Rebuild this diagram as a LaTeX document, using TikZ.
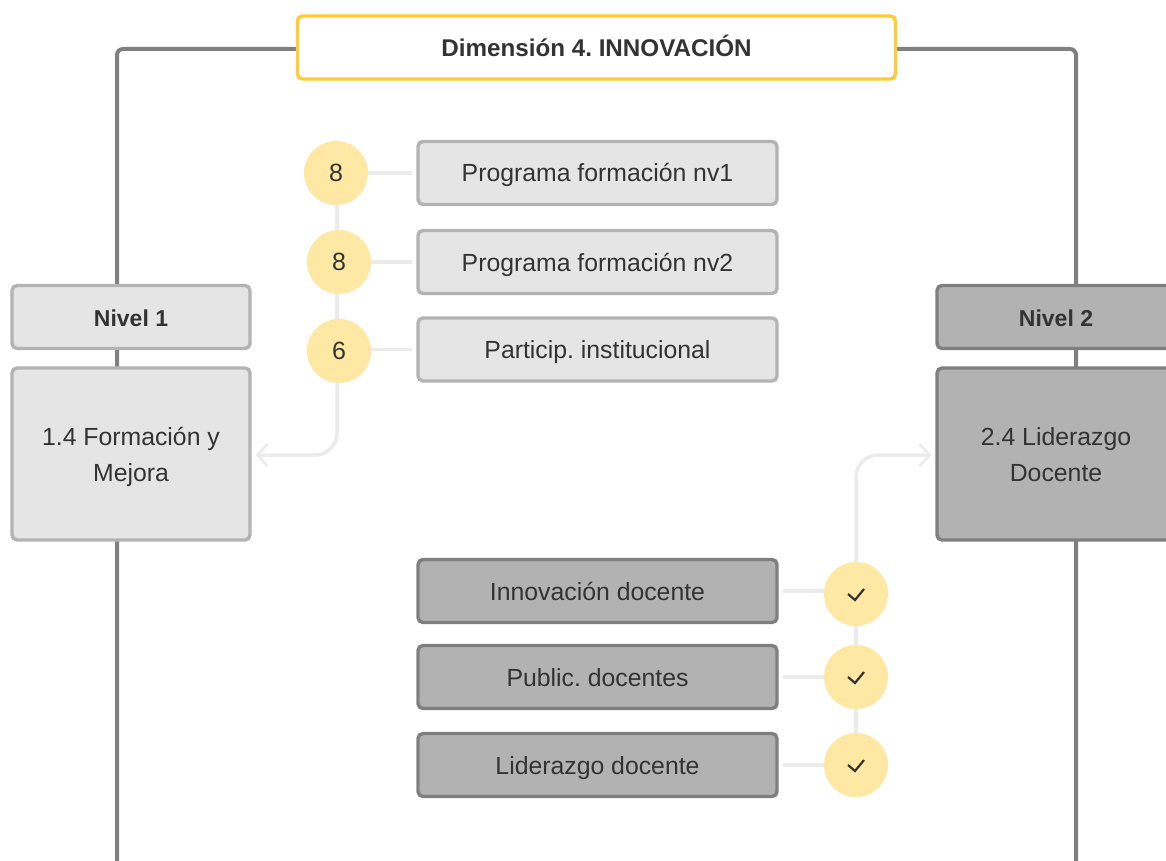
\documentclass[tikz,border=0pt]{standalone}
\usepackage{fontspec}
\setmainfont{Liberation Sans}
\frenchspacing
\usetikzlibrary{arrows.meta, backgrounds, positioning}

\definecolor{framegray}{HTML}{808080}
\definecolor{linkgray}{HTML}{EBEBEB}
\definecolor{inktext}{HTML}{333333}
\definecolor{goldline}{HTML}{FFCC33}
\definecolor{goldfill}{HTML}{FFE8A3}
\definecolor{lightfill}{HTML}{E5E5E5}
\definecolor{lightline}{HTML}{B3B3B3}
\definecolor{darkfill}{HTML}{B2B2B2}
\definecolor{darkline}{HTML}{7F7F7F}

\tikzset{
  basebox/.style={rectangle, rounded corners=5pt, line width=3.4pt, inner sep=0pt, align=center,
    text=inktext, font=\fontsize{24.8}{36}\selectfont, text height=24pt, text depth=6pt},
  lightbox/.style={basebox, draw=lightline, fill=lightfill},
  darkbox/.style={basebox, draw=darkline, fill=darkfill},
  itembox/.style={minimum width=359pt, minimum height=63pt},
  levelbox/.style={minimum width=238pt, minimum height=63pt, font=\fontsize{23}{36}\selectfont\bfseries},
  skillbox/.style={minimum width=238pt, minimum height=172pt, text height=60pt, text depth=6pt},
  score/.style={circle, fill=goldfill, text=inktext, minimum size=64pt, inner sep=0pt,
    font=\fontsize{25}{28}\selectfont},
  link/.style={draw=linkgray, line width=3.5pt},
  flow/.style={link, rounded corners=22pt, -{Straight Barb[length=10pt, width=22pt, line width=2.5pt]}}
}

\begin{document}
\begin{tikzpicture}[x=1pt, y=-1pt]
\useasboundingbox (0,0) rectangle (1166,861);

% Define nodes
\path
(596.5,47.5) node[basebox, draw=goldline, fill=white, minimum width=598pt, minimum height=63pt,
  font=\fontsize{24.2}{36}\selectfont\bfseries] (title) {Dimensión 4. INNOVACIÓN}
(131,317) node[lightbox, levelbox] (level1) {Nivel 1}
(131,454) node[lightbox, skillbox] (skill1) {1.4 Formación y\\Mejora}
(1056,317) node[darkbox, levelbox] (level2) {Nivel 2}
(1056,454) node[darkbox, skillbox] (skill2) {2.4 Liderazgo\\Docente}
(597.5,173) node[lightbox, itembox] (prog1) {Programa formación nv1}
(597.5,262) node[lightbox, itembox] (prog2) {Programa formación nv2}
(597.5,349.5) node[lightbox, itembox] (part) {Particip. institucional}
(597.5,591) node[darkbox, itembox] (innov) {Innovación docente}
(597.5,677) node[darkbox, itembox] (public) {Public. docentes}
(597.5,765) node[darkbox, itembox] (lider) {Liderazgo docente}
(336,173) node[score] (n1) {8}
(339,262) node[score] (n2) {8}
(339,351) node[score] (n3) {6}
(856,594) node[score] (c1) {}
(856,677) node[score] (c2) {}
(856,765) node[score] (c3) {}
(117,49) coordinate (cornerL)
(1076,49) coordinate (cornerR)
(117,870) coordinate (endL)
(1076,870) coordinate (endR)
(337,173) coordinate (spine)
;

% Frame and links
\begin{scope}[on background layer]
\draw[framegray, line width=4pt, rounded corners=6pt] (title.west |- cornerL) -- (cornerL) -- (endL);
\draw[framegray, line width=4pt, rounded corners=6pt] (title.east |- cornerR) -- (cornerR) -- (endR);
\draw[link] (spine) -- (spine |- n3);
\draw[link] (n1.east) -- ([xshift=-4pt]prog1.west);
\draw[link] (n2.east) -- ([xshift=-4pt]prog2.west);
\draw[link] (n3.east |- part.west) -- ([xshift=-4pt]part.west);
\draw[flow] (spine |- n3) |- ([xshift=4pt,yshift=-1pt]skill1.east);
\draw[link] (c1) -- (c2);
\draw[link] (c2) -- (c3);
\draw[link] ([xshift=4pt]innov.east) -- (c1.west |- innov.east);
\draw[link] ([xshift=4pt]public.east) -- (c2.west);
\draw[link] ([xshift=4pt]lider.east) -- (c3.west);
\draw[flow] (c1.north) |- ([xshift=-4pt,yshift=-1pt]skill2.west);
\end{scope}

% Check marks
\foreach \tick in {c1, c2, c3}
  \draw[inktext, line width=2.2pt] (\tick) +(-8,0) -- +(-1,6) -- +(8,-5);

\end{tikzpicture}
\end{document}
